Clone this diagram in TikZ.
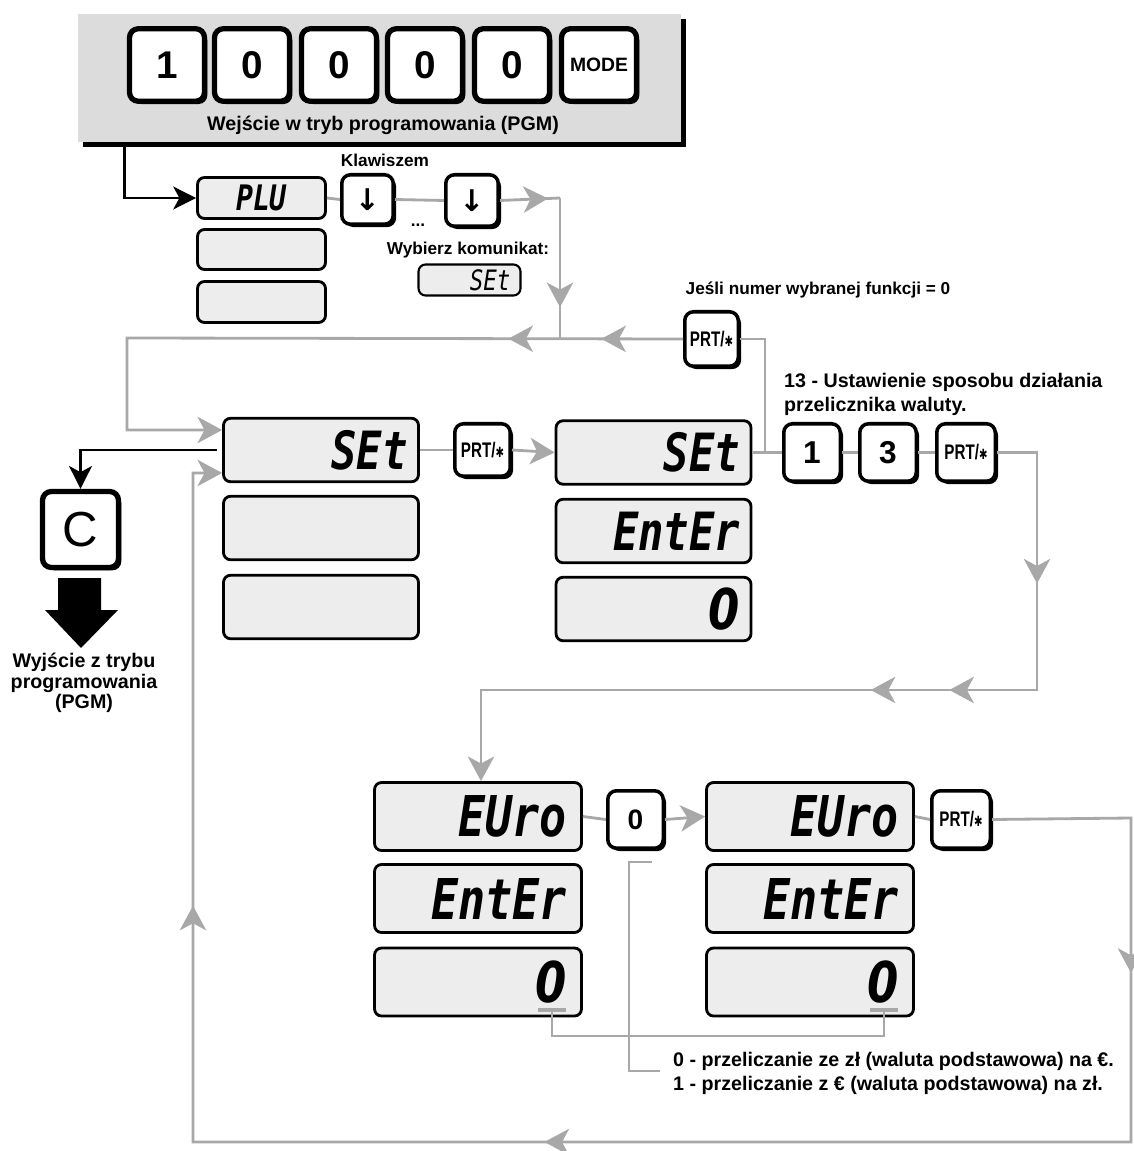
\documentclass[tikz,border=0pt]{standalone}
\usepackage{fontspec}
\setmainfont{Liberation Sans}
\newfontfamily\lcdfont{DejaVu Sans Mono}
\newfontfamily\symfont{DejaVu Sans}
\usetikzlibrary{arrows.meta, shadows, decorations.markings}
\definecolor{panelgray}{RGB}{220,220,220}
\definecolor{lcdgray}{RGB}{237,237,237}
\definecolor{linegray}{RGB}{168,168,168}
\newcommand{\lcdtxt}[1]{\scalebox{0.8}[1]{#1}}
\newcommand{\prtkey}{\scalebox{0.72}[1]{PRT/{\symfont\fontsize{8}{8}\selectfont ✱}}}
\tikzset{
  gtip/.tip={Stealth[length=14pt,width=15pt,inset=4pt]},
  btip/.tip={Stealth[length=13pt,width=13pt,inset=3.5pt]},
  gline/.style={color=linegray, line width=1.6pt},
  bline/.style={color=black, line width=1.6pt},
  midarr/.style={postaction={decorate,decoration={markings,mark=at position #1 with {\arrow{gtip}}}}},
  panel/.style={fill=panelgray, minimum width=12.06cm, minimum height=2.56cm,
    drop shadow={shadow xshift=0.1cm, shadow yshift=-0.1cm, opacity=1, fill=black}},
  key/.style={draw, line width=2pt, rounded corners=5pt, fill=white, inner sep=0pt,
    font=\bfseries, drop shadow={shadow xshift=1.6pt, shadow yshift=-1.6pt, opacity=1, fill=black}},
  topkey/.style={key, line width=3pt, minimum width=1.5cm, minimum height=1.45cm,
    font=\bfseries\fontsize{22}{22}\selectfont},
  smkey/.style={key, minimum width=1.1cm, minimum height=1.1cm, font=\bfseries\fontsize{12}{12}\selectfont},
  lcd/.style={draw, line width=1.6pt, rounded corners=4pt, fill=lcdgray, align=right, inner ysep=0pt},
  lcdmid/.style={lcd, text width=3.46cm, inner xsep=0.22cm, minimum height=1.27cm,
    font=\lcdfont\bfseries\itshape\fontsize{30}{30}\selectfont},
  lcdbig/.style={lcd, text width=3.54cm, inner xsep=0.3cm, minimum height=1.36cm,
    font=\lcdfont\bfseries\itshape\fontsize{32}{32}\selectfont},
  lcdzero/.style={font=\symfont\bfseries\itshape\fontsize{32}{32}\selectfont},
  label/.style={font=\bfseries\fontsize{9.8}{11}\selectfont},
  note/.style={font=\bfseries\fontsize{11.2}{13.6}\selectfont}
}
\begin{document}
\begin{tikzpicture}[x=0.02cm, y=-0.02cm]
\useasboundingbox (0,0) rectangle (1133,1151);
% entry into programming mode
\node (panel) at (379.5,78) [panel] {};
\node (d1) at (167,65) [topkey] {1};
\node (d2) at (252,65) [topkey] {0};
\node (d3) at (339,65) [topkey] {0};
\node (d4) at (425,65) [topkey] {0};
\node (d5) at (512,65) [topkey] {0};
\node (mode) at (599,65) [topkey, font=\bfseries\fontsize{11}{11}\selectfont] {MODE};
\node (pgmin) at (383,125) [font=\bfseries\fontsize{11.2}{12}\selectfont] {Wejście w tryb programowania (PGM)};
% PLU display and arrow keys
\node (plu) at (261.5,198) [lcd, align=center, minimum width=2.56cm, minimum height=0.82cm,
  font=\lcdfont\bfseries\itshape\fontsize{20}{20}\selectfont] {\lcdtxt{PLU}};
\node (plu2) at (261.5,249.5) [lcd, minimum width=2.56cm, minimum height=0.8cm] {};
\node (plu3) at (261.5,302) [lcd, minimum width=2.56cm, minimum height=0.82cm] {};
\node (dn1) at (367.5,199.5) [key, minimum width=1.03cm, minimum height=0.99cm,
  font=\symfont\bfseries\fontsize{17}{17}\selectfont] {↓};
\node (dn2) at (472,200.5) [key, minimum width=1.05cm, minimum height=1.03cm,
  font=\symfont\bfseries\fontsize{17}{17}\selectfont] {↓};
\node (klaw) at (385,160) [label] {Klawiszem};
\node (dots) at (418,225) [label] {...};
\node (wyb) at (468,250) [label] {Wybierz komunikat:};
\node (selset) at (469.5,280) [lcd, text width=1.64cm, inner xsep=0.2cm, minimum height=0.62cm,
  line width=1.2pt, font=\lcdfont\itshape\fontsize{16}{16}\selectfont] {\lcdtxt{SEt}};
% function selection
\node (jesli) at (818,290) [label] {Jeśli numer wybranej funkcji = 0};
\node (prt0) at (711.5,339) [smkey, minimum width=1.07cm, minimum height=1.09cm] {\prtkey};
\node (set1) at (321,450) [lcdmid] {\lcdtxt{SEt}};
\node (set1b) at (321,528) [lcdmid] {};
\node (set1c) at (321,607) [lcdmid] {};
\node (prtA) at (482.5,450) [smkey, minimum width=1.11cm, minimum height=1.05cm] {\prtkey};
\node (set2) at (653.5,452.5) [lcdmid] {\lcdtxt{SEt}};
\node (ent2) at (653.5,531) [lcdmid] {\lcdtxt{EntEr}};
\node (zero2) at (653.5,609) [lcdmid, lcdzero] {\lcdtxt{0}};
\node (ustaw) at (778,367) [note, anchor=north west, align=left] {13 - Ustawienie sposobu działania\\przelicznika waluty.};
\node (n1) at (812,452.5) [smkey, minimum width=1.13cm, minimum height=1.15cm, font=\bfseries\fontsize{18}{18}\selectfont] {1};
\node (n3) at (888,452.5) [smkey, minimum width=1.13cm, minimum height=1.15cm, font=\bfseries\fontsize{18}{18}\selectfont] {3};
\node (prtB) at (966,452.5) [smkey, minimum width=1.17cm, minimum height=1.15cm] {\prtkey};
% exit with C
\node (ckey) at (80.5,529.5) [key, line width=3pt, minimum width=1.52cm, minimum height=1.52cm,
  font=\fontsize{28}{28}\selectfont] {C};
\fill (58,578) -- (101,578) -- (101,610) -- (118,610) -- (81,648) -- (45,610) -- (58,610) -- cycle;
\node (pgmout) at (84,683) [align=center, font=\bfseries\fontsize{11.2}{11.8}\selectfont] {Wyjście z trybu\\programowania\\(PGM)};
% currency conversion
\node (euro1) at (478,816.5) [lcdbig] {\lcdtxt{EUro}};
\node (ent3) at (478,898.5) [lcdbig] {\lcdtxt{EntEr}};
\node (zero3) at (478,982) [lcdbig, lcdzero] {\lcdtxt{0}};
\node (key0) at (635.5,819.5) [smkey, minimum width=1.11cm, minimum height=1.15cm, font=\bfseries\fontsize{16}{16}\selectfont] {0};
\node (euro2) at (810,816.5) [lcdbig] {\lcdtxt{EUro}};
\node (ent4) at (810,898.5) [lcdbig] {\lcdtxt{EntEr}};
\node (zero4) at (810,982) [lcdbig, lcdzero] {\lcdtxt{0}};
\node (prtC) at (961,819.5) [smkey, minimum width=1.17cm, minimum height=1.15cm] {\prtkey};
\node (note0) at (667,1061) [anchor=west, font=\bfseries\fontsize{11.2}{12}\selectfont] {0 - przeliczanie ze zł (waluta podstawowa) na €.};
\node (note1) at (667,1085) [anchor=west, font=\bfseries\fontsize{11.2}{12}\selectfont] {1 - przeliczanie z € (waluta podstawowa) na zł.};
% junctions
\coordinate (j1) at (560,198);
\coordinate (j2) at (560,338);
\coordinate (j3) at (127,338);
\coordinate (j4) at (127,430);
\coordinate (j5) at (765,452.5);
\coordinate (j6) at (1037,452.5);
\coordinate (j7) at (1037,690);
\coordinate (j8) at (481,690);
\coordinate (j9) at (1131,818);
\coordinate (j10) at (1131,1142);
\coordinate (j11) at (193,1142);
\coordinate (j12) at (193,473);
% black connectors
\draw[bline, -btip] ([xshift=0.94cm]panel.south west) |- (plu.west);
\draw[bline, -btip] ([xshift=-0.1cm]set1.west) -| (ckey.north);
% gray connectors
\draw[gline] (plu.east) -- (dn1.west);
\draw[gline] (dn1.east) -- (dn2.west);
\draw[gline, midarr=0.8] (dn2.east) -- (j1);
\draw[gline, midarr=0.78] (j1) -- (j2);
\draw[gline, midarr=0.11, midarr=0.235, -gtip] (prt0.west) -- (j3) -- (j4) -- (j4 -| set1.west);
\draw[gline] (set1.east) -- (prtA.west);
\draw[gline, -gtip] (prtA.east) -- (set2.west);
\draw[gline] (set2.east) -- (n1.west);
\draw[gline] (j5) |- (prt0.east);
\draw[gline] (n1.east) -- (n3.west);
\draw[gline] (n3.east) -- (prtB.west);
\draw[gline, midarr=0.185, midarr=0.395, midarr=0.48, -gtip] (prtB.east) -- (j6) -- (j7) -- (j8) -- (j8 |- euro1.north);
\draw[gline] (euro1.east) -- (key0.west);
\draw[gline, -gtip] (key0.east) -- (euro2.west);
\draw[gline] (euro2.east) -- (prtC.west);
\draw[gline, midarr=0.14, midarr=0.5, midarr=0.78, -gtip] (prtC.east) -- (j9) -- (j10) -- (j11) -- (j12) -- (j12 -| set1.west);
% digit cursors and notes
\draw[gline, line width=2.2pt] (538,1010) -- (566,1010);
\draw[gline, line width=2.2pt] (870,1010) -- (898,1010);
\draw[gline] (552,1010) -- (552,1036) -- (884,1036) -- (884,1010);
\draw[gline] (652,862) -- (629,862) -- (629,1071) -- (660,1071);
\end{tikzpicture}
\end{document}
